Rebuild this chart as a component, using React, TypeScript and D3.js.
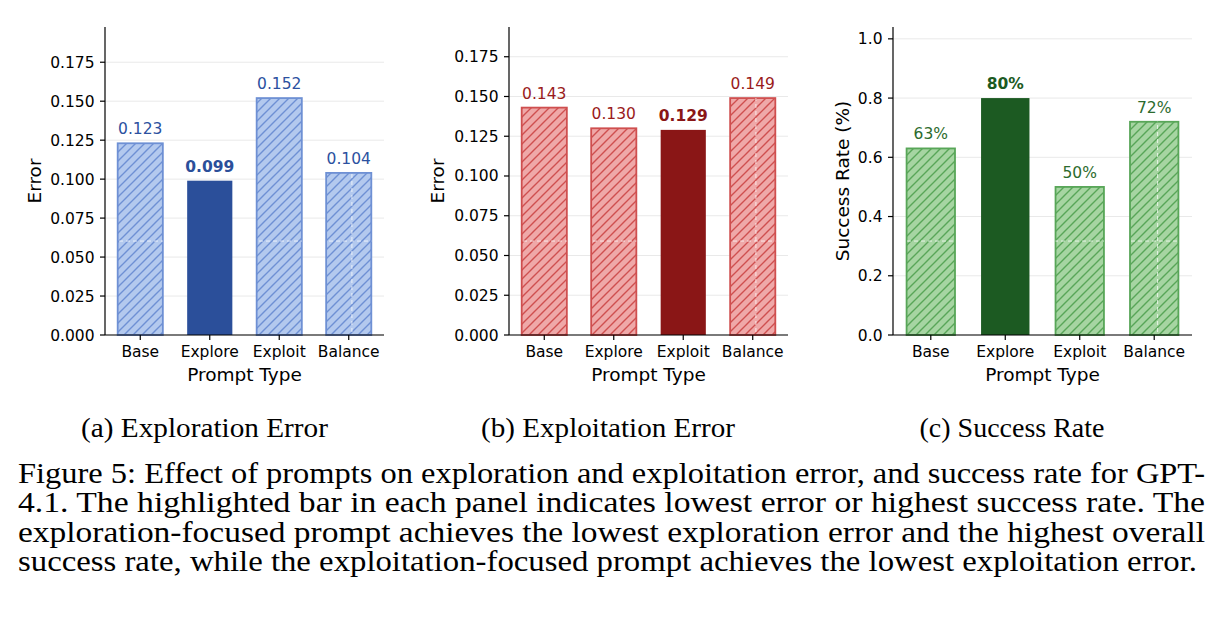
import React from "react";
import * as d3 from "d3";

const categories = ["Base", "Explore", "Exploit", "Balance"];
const explorationError = [0.123, 0.099, 0.152, 0.104];
const exploitationError = [0.143, 0.13, 0.129, 0.149];
const successRate = [0.63, 0.8, 0.5, 0.72];
const errorTicks = [0, 0.025, 0.05, 0.075, 0.1, 0.125, 0.15, 0.175];
const rateTicks = [0, 0.2, 0.4, 0.6, 0.8, 1.0];

const subCaptions = ["(a) Exploration Error", "(b) Exploitation Error", "(c) Success Rate"];
const captionLines = [
  "Figure 5: Effect of prompts on exploration and exploitation error, and success rate for GPT-",
  "4.1. The highlighted bar in each panel indicates lowest error or highest success rate. The",
  "exploration-focused prompt achieves the lowest exploration error and the highest overall",
  "success rate, while the exploitation-focused prompt achieves the lowest exploitation error.",
];

const SANS = "DejaVu Sans, sans-serif";
const SERIF = "Liberation Serif, serif";

type Palette = { fill: string; edge: string; solid: string; text: string };

const blue: Palette = { fill: "#b3c9ee", edge: "#6e90d4", solid: "#2b4f9a", text: "#2c51a0" };
const red: Palette = { fill: "#efa8a8", edge: "#cf4f4f", solid: "#8a1616", text: "#9a1b1b" };
const green: Palette = { fill: "#a6d5a2", edge: "#58a658", solid: "#1c5a22", text: "#2c6b2e" };

type PanelProps = {
  id: string;
  left: number;
  right: number;
  values: number[];
  ticks: number[];
  tickFmt: (v: number) => string;
  labelFmt: (v: number) => string;
  yLabel: string;
  yLabelX: number;
  pal: Palette;
  best: number;
  caption: string;
  captionX: number;
  captionW: number;
};

const TOP = 27;
const BOTTOM = 335;
const BAR_W = 0.65;

const Panel = ({ id, left, right, values, ticks, tickFmt, labelFmt, yLabel, yLabelX, pal, best, caption, captionX, captionW }: PanelProps) => {
  const pad = 0.05 * (categories.length - 1 + BAR_W);
  const x = d3
    .scaleLinear()
    .domain([-BAR_W / 2 - pad, categories.length - 1 + BAR_W / 2 + pad])
    .range([left, right]);
  const y = d3
    .scaleLinear()
    .domain([0, (d3.max(values) as number) * 1.3])
    .range([BOTTOM, TOP]);
  const bw = x(BAR_W) - x(0);
  const hatched = categories.map((_, i) => i).filter((i) => i !== best);

  return (
    <g>
      <defs>
        <pattern id={`hatch-${id}`} patternUnits="userSpaceOnUse" width={9} height={9}>
          <rect width={9} height={9} fill={pal.fill} />
          <path d="M-1,1 l2,-2 M0,9 l9,-9 M8,10 l2,-2" stroke={pal.edge} strokeWidth={1.4} />
        </pattern>
        <clipPath id={`clip-${id}`}>
          {hatched.map((i) => (
            <rect key={i} x={x(i) - bw / 2} y={y(values[i])} width={bw} height={BOTTOM - y(values[i])} />
          ))}
        </clipPath>
      </defs>

      {/* grid */}
      {ticks.map((t) => (
        <line key={t} x1={left} x2={right} y1={y(t)} y2={y(t)} stroke="#e9e9e9" strokeWidth={1} />
      ))}

      {/* bars */}
      {values.map((v, i) => {
        const isBest = i === best;
        return (
          <rect
            key={categories[i]}
            x={x(i) - bw / 2}
            y={y(v)}
            width={bw}
            height={BOTTOM - y(v)}
            fill={isBest ? pal.solid : `url(#hatch-${id})`}
            stroke={isBest ? pal.solid : pal.edge}
            strokeWidth={isBest ? 0 : 1.8}
          />
        );
      })}

      {/* faint dashed artefacts visible through hatched bars */}
      <g clipPath={`url(#clip-${id})`} stroke="#ffffff" strokeOpacity={0.75} strokeDasharray="4,3" strokeWidth={1}>
        <line x1={left} x2={right} y1={BOTTOM - 0.305 * (BOTTOM - TOP)} y2={BOTTOM - 0.305 * (BOTTOM - TOP)} />
        <line x1={left + 0.885 * (right - left)} x2={left + 0.885 * (right - left)} y1={TOP} y2={BOTTOM} />
      </g>

      {/* value labels */}
      {values.map((v, i) => (
        <text
          key={categories[i]}
          x={x(i)}
          y={y(v) - 9}
          textAnchor="middle"
          fontFamily={SANS}
          fontSize={15.5}
          fontWeight={i === best ? "bold" : "normal"}
          fill={i === best ? pal.solid : pal.text}
        >
          {labelFmt(v)}
        </text>
      ))}

      {/* axes */}
      <line x1={left} x2={left} y1={TOP} y2={BOTTOM} stroke="#000" strokeWidth={1.2} />
      <line x1={left} x2={right} y1={BOTTOM} y2={BOTTOM} stroke="#000" strokeWidth={1.2} />
      {ticks.map((t) => (
        <g key={t}>
          <line x1={left - 5} x2={left} y1={y(t)} y2={y(t)} stroke="#000" strokeWidth={1.2} />
          <text x={left - 10.5} y={y(t) + 5.5} textAnchor="end" fontFamily={SANS} fontSize={15.5} fill="#000">
            {tickFmt(t)}
          </text>
        </g>
      ))}
      {categories.map((c, i) => (
        <g key={c}>
          <line x1={x(i)} x2={x(i)} y1={BOTTOM} y2={BOTTOM + 5} stroke="#000" strokeWidth={1.2} />
          <text x={x(i)} y={BOTTOM + 22} textAnchor="middle" fontFamily={SANS} fontSize={15.5} fill="#000">
            {c}
          </text>
        </g>
      ))}
      <text
        x={(left + right) / 2}
        y={BOTTOM + 46}
        textAnchor="middle"
        fontFamily={SANS}
        fontSize={18.5}
        fill="#000"
      >
        Prompt Type
      </text>
      <text
        transform={`translate(${yLabelX},${(TOP + BOTTOM) / 2}) rotate(-90)`}
        y={6.5}
        textAnchor="middle"
        fontFamily={SANS}
        fontSize={18.5}
        fill="#000"
      >
        {yLabel}
      </text>

      <text
        x={captionX - captionW / 2}
        y={437}
        fontFamily={SERIF}
        fontSize={28}
        fill="#000"
        textLength={captionW}
        lengthAdjust="spacingAndGlyphs"
      >
        {caption}
      </text>
    </g>
  );
};

const fmt3 = d3.format(".3f");
const fmt1 = d3.format(".1f");
const pct = d3.format(".0%");

export default function App() {
  return (
    <svg
      width={1223}
      height={619}
      style={{ position: "absolute", left: 0, top: 0, background: "#fff" }}
    >
      <rect width={1223} height={619} fill="#fff" />
      <Panel
        id="a"
        left={105}
        right={384}
        values={explorationError}
        ticks={errorTicks}
        tickFmt={fmt3}
        labelFmt={fmt3}
        yLabel="Error"
        yLabelX={34}
        pal={blue}
        best={1}
        caption={subCaptions[0]}
        captionX={204.5}
        captionW={247}
      />
      <Panel
        id="b"
        left={509}
        right={788}
        values={exploitationError}
        ticks={errorTicks}
        tickFmt={fmt3}
        labelFmt={fmt3}
        yLabel="Error"
        yLabelX={437}
        pal={red}
        best={2}
        caption={subCaptions[1]}
        captionX={608}
        captionW={254}
      />
      <Panel
        id="c"
        left={893}
        right={1192}
        values={successRate}
        ticks={rateTicks}
        tickFmt={fmt1}
        labelFmt={pct}
        yLabel="Success Rate (%)"
        yLabelX={842}
        pal={green}
        best={1}
        caption={subCaptions[2]}
        captionX={1012}
        captionW={185}
      />
      {captionLines.map((line, i) => (
        <text
          key={i}
          x={18}
          y={483 + i * 29.4}
          fontFamily={SERIF}
          fontSize={29}
          fill="#000"
          textLength={i === 3 ? 1179 : 1187}
          lengthAdjust="spacingAndGlyphs"
        >
          {line}
        </text>
      ))}
    </svg>
  );
}
